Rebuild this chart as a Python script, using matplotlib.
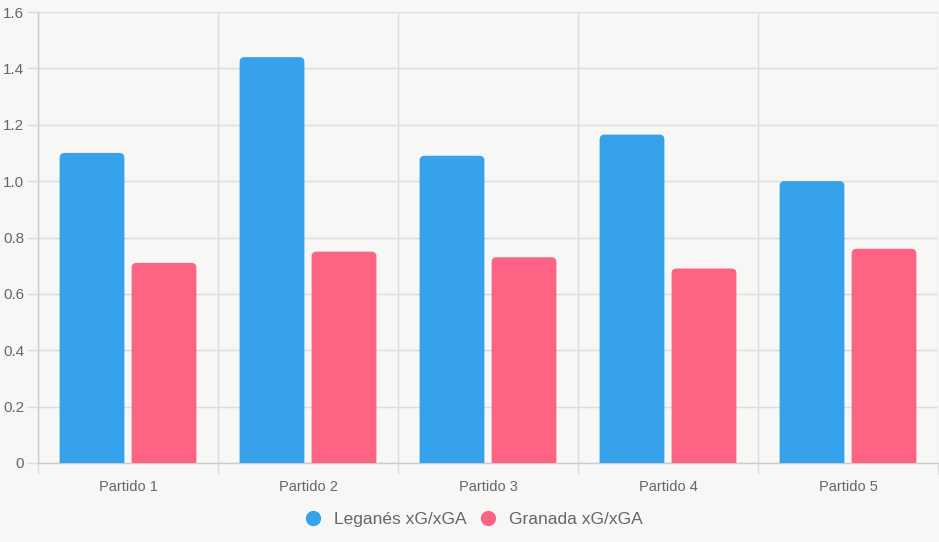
import matplotlib
matplotlib.use("Agg")
import matplotlib.pyplot as plt
from matplotlib.patches import FancyBboxPatch
from matplotlib.lines import Line2D
import numpy as np

# data
partidos = ["Partido 1", "Partido 2", "Partido 3", "Partido 4", "Partido 5"]
leganes = [1.10, 1.44, 1.09, 1.165, 1.00]
granada = [0.71, 0.75, 0.73, 0.69, 0.76]
series_names = ["Leganés xG/xGA", "Granada xG/xGA"]
y_ticks = [0, 0.2, 0.4, 0.6, 0.8, 1.0, 1.2, 1.4, 1.6]
y_labels = ["0", "0.2", "0.4", "0.6", "0.8", "1.0", "1.2", "1.4", "1.6"]

BLUE = "#36A2EB"
PINK = "#FF6384"
BG = "#F7F7F5"
GRID = "#DDDDDD"
TXT = "#666666"

plt.rcParams['font.family'] = ['Liberation Sans', 'DejaVu Sans']

W, H = 939, 542
fig = plt.figure(figsize=(W / 100, H / 100), dpi=100, facecolor=BG)
ax = fig.add_axes([38 / W, (H - 463) / H, 900 / W, 451 / H], facecolor=BG)

ax.set_xlim(-0.5, 4.5)
ax.set_ylim(0, 1.6)

# Chart.js-like geometry: category 0.8, bar 0.9
cat_w = 0.8
bar_slot = cat_w / 2
bar_w = bar_slot * 0.9
x = np.arange(len(partidos))

# data units per pixel, for rounding the top corners
px_x = 5 / 900
px_y = 1.6 / 451
aspect = px_y / px_x
radius = 5 * px_x

for vals, color, off in [(leganes, BLUE, -bar_slot / 2), (granada, PINK, bar_slot / 2)]:
    for xi, v in zip(x, vals):
        left = xi + off - bar_w / 2
        patch = FancyBboxPatch((left, -radius * aspect), bar_w, v + radius * aspect,
                               boxstyle=f"round,pad=0,rounding_size={radius}",
                               mutation_aspect=aspect,
                               facecolor=color, edgecolor="none", zorder=3)
        patch.set_clip_on(True)
        ax.add_patch(patch)

# grid and ticks
ax.set_yticks(y_ticks)
ax.set_yticklabels(y_labels)
ax.set_xticks(np.arange(-0.5, 5, 1.0))
ax.set_xticklabels([])
ax.set_xticks(x, minor=True)
ax.set_xticklabels(partidos, minor=True)
ax.grid(True, which="major", color=GRID, linewidth=1, zorder=0)
ax.tick_params(axis="y", which="major", length=8, width=1, color=GRID,
               labelsize=11, labelcolor=TXT, pad=2)
ax.tick_params(axis="x", which="major", length=8, width=1, color=GRID)
ax.tick_params(axis="x", which="minor", length=0, labelsize=10.5,
               labelcolor=TXT, pad=12)

for side in ["top", "right"]:
    ax.spines[side].set_visible(False)
for side in ["left", "bottom"]:
    ax.spines[side].set_color("#CCCCCC")
    ax.spines[side].set_linewidth(1)

handles = [Line2D([], [], marker="o", linestyle="none", markersize=10,
                  markerfacecolor=c, markeredgecolor=c) for c in (BLUE, PINK)]
fig.legend(handles, series_names, loc="center", bbox_to_anchor=(0.5, 1 - 519 / H),
           ncol=2, frameon=False, fontsize=12.5, labelcolor=TXT,
           handletextpad=0.2, columnspacing=0.25)

fig.savefig("out.png", dpi=100, facecolor=BG)
